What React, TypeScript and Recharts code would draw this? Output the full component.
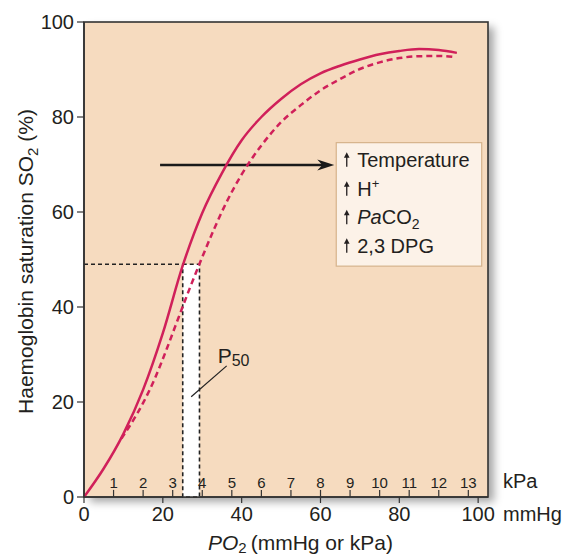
import React from 'react';
import { LineChart, Line, XAxis, YAxis, ReferenceArea, ReferenceLine } from 'recharts';

// ---------- data ----------
const normalPO2 = [0, 5, 10, 15, 20, 25, 30, 35, 40, 45, 50, 55, 60, 65, 70, 75, 80, 85, 90, 94.6];
const normalSat = [0, 6.0, 13.3, 22.6, 34.5, 48.6, 59.8, 68.2, 75.1, 80.0, 83.8, 86.9, 89.2, 90.8, 92.1, 93.2, 93.9, 94.3, 94.1, 93.5];

const shiftedPO2 = [9.5, 12, 15, 18, 21, 24, 27, 30, 33, 36, 40, 45, 50, 55, 60, 65, 70, 75, 80, 85, 90, 94.2];
const shiftedSat = [12.3, 15.5, 19.8, 25.0, 31.2, 37.8, 44.3, 50.5, 56.4, 61.8, 67.9, 74.0, 78.9, 82.5, 85.6, 88.0, 90.1, 91.5, 92.4, 92.8, 92.85, 92.6];

const mmHgTicks = [0, 20, 40, 60, 80, 100];
const satTicks = [0, 20, 40, 60, 80, 100];
const kPaTicks = [1, 2, 3, 4, 5, 6, 7, 8, 9, 10, 11, 12, 13];
const MMHG_PER_KPA = 7.50062;

const P50_NORMAL = 25.05;
const P50_SHIFTED = 29.3;
const P50_SAT = 49;

const X_MAX = 102.5;

const normalData = normalPO2.map((x, i) => ({ x, y: normalSat[i] }));
const shiftedData = shiftedPO2.map((x, i) => ({ x, y: shiftedSat[i] }));

// ---------- styles ----------
const FONT = '"Liberation Sans", Arial, Helvetica, sans-serif';
const TEXT = '#231f20';
const AXIS = '#333333';
const PEACH = '#f6dbbf';
const CURVE = '#d0205a';

const PlotBackground = (props: any) => {
  const { x, y, width, height } = props;
  return (
    <g>
      <defs>
        <filter id="plotShadow" x="-10%" y="-10%" width="125%" height="125%">
          <feDropShadow dx="6" dy="5" stdDeviation="4" floodColor="#000" floodOpacity="0.35" />
        </filter>
      </defs>
      <rect x={x} y={y} width={width} height={height} fill={PEACH} filter="url(#plotShadow)" />
      <rect x={x} y={y} width={width} height={height} fill="none" stroke={AXIS} strokeWidth={1.6} />
    </g>
  );
};

const UpArrow = ({ x, baseline }: { x: number; baseline: number }) => (
  <g>
    <line x1={x} y1={baseline} x2={x} y2={baseline - 11} stroke={TEXT} strokeWidth={1.3} />
    <path d={`M ${x - 2.8} ${baseline - 9} L ${x} ${baseline - 14.5} L ${x + 2.8} ${baseline - 9} Z`} fill={TEXT} />
  </g>
);

const FactorsBox = (props: any) => {
  const { x, y, width, height } = props;
  const tx = x + 21;
  const ax = x + 10.5;
  const b = [y + 24, y + 53, y + 81.6, y + 110];
  const common = { fontFamily: FONT, fontSize: 20, fill: TEXT };
  return (
    <g>
      <rect x={x} y={y} width={width} height={height} fill="#fcf2e8" stroke="#d6b38c" strokeWidth={1.2} />
      <UpArrow x={ax} baseline={b[0]} />
      <text x={tx} y={b[0]} {...common}>Temperature</text>
      <UpArrow x={ax} baseline={b[1]} />
      <text x={tx} y={b[1]} {...common}>
        H<tspan fontSize={13} dy={-8}>+</tspan>
      </text>
      <UpArrow x={ax} baseline={b[2]} />
      <text x={tx} y={b[2]} {...common}>
        <tspan fontStyle="italic">Pa</tspan>CO<tspan fontSize={14} dy={5}>2</tspan>
      </text>
      <UpArrow x={ax} baseline={b[3]} />
      <text x={tx} y={b[3]} {...common}>2,3 DPG</text>
    </g>
  );
};

const ArrowShape = (props: any) => {
  const { x1, y1, x2, y2 } = props;
  return (
    <g>
      <line x1={x1} y1={y1} x2={x2 - 10} y2={y2} stroke="#1a1a1a" strokeWidth={2.5} />
      <path d={`M ${x2} ${y2} L ${x2 - 17} ${y2 - 5.5} L ${x2 - 12} ${y2} L ${x2 - 17} ${y2 + 5.5} Z`} fill="#1a1a1a" />
    </g>
  );
};

const P50Label = (props: any) => {
  const vb = props.viewBox || {};
  const x = vb.x + vb.width - 9;
  const y = vb.y - 3;
  return (
    <text x={x} y={y} fontFamily={FONT} fontSize={21} fill={TEXT}>
      P<tspan fontSize={16} dy={3}>50</tspan>
    </text>
  );
};

const XAxisLabels = (props: any) => {
  const vb = props.viewBox || {};
  const right = vb.x + vb.width;
  return (
    <g fontFamily={FONT} fill={TEXT}>
      <text x={right + 15} y={vb.y - 9} fontSize={20}>kPa</text>
      <text x={right + 15} y={vb.y + 24} fontSize={20}>mmHg</text>
      <text x={vb.x + 124} y={vb.y + 53} fontSize={21}>
        <tspan fontStyle="italic">PO</tspan>
        <tspan fontSize={15} dy={3}>2</tspan>
        <tspan dy={-3} dx={4}>(mmHg or kPa)</tspan>
      </text>
    </g>
  );
};

const YAxisLabel = (props: any) => {
  const vb = props.viewBox || {};
  const cx = vb.x + 33;
  const cy = vb.y + vb.height / 2 + 2;
  return (
    <text
      x={cx}
      y={cy}
      transform={`rotate(-90, ${cx}, ${cy})`}
      textAnchor="middle"
      fontFamily={FONT}
      fontSize={21}
      fill={TEXT}
    >
      Haemoglobin saturation SO<tspan fontSize={15} dy={5}>2</tspan>
      <tspan dy={-5}> (%)</tspan>
    </text>
  );
};

export default function App() {
  return (
    <div style={{ position: 'absolute', left: 0, top: 0, width: 575, height: 557, background: '#fff' }}>
      <LineChart width={575} height={557} margin={{ top: 22, right: 87, left: 0, bottom: 0 }}>
        <ReferenceArea
          x1={0}
          x2={X_MAX}
          y1={0}
          y2={100}
          ifOverflow="visible"
          shape={<PlotBackground />}
        />
        <ReferenceArea
          x1={P50_NORMAL}
          x2={P50_SHIFTED}
          y1={0}
          y2={P50_SAT}
          fill="#ffffff"
          fillOpacity={1}
          stroke="#222"
          strokeWidth={1.6}
          strokeDasharray="4 3"
          ifOverflow="visible"
        />
        <ReferenceLine
          segment={[{ x: 0, y: P50_SAT }, { x: P50_NORMAL, y: P50_SAT }]}
          stroke="#222"
          strokeWidth={1.3}
          strokeDasharray="4 3"
          ifOverflow="visible"
        />
        <ReferenceLine
          segment={[{ x: 27.2, y: 21.1 }, { x: 36.2, y: 27.6 }]}
          stroke="#222"
          strokeWidth={1.2}
          ifOverflow="visible"
          label={P50Label}
        />
        {kPaTicks.map((k) => (
          <ReferenceLine
            key={k}
            segment={[{ x: k * MMHG_PER_KPA, y: 0 }, { x: k * MMHG_PER_KPA, y: 1.5 }]}
            stroke={AXIS}
            strokeWidth={1.2}
            ifOverflow="visible"
            label={{ value: String(k), position: 'top', offset: 2, fontSize: 15, fill: TEXT, fontFamily: FONT }}
          />
        ))}
        <ReferenceArea
          x1={64}
          x2={100.9}
          y1={48.6}
          y2={74.6}
          ifOverflow="visible"
          shape={<FactorsBox />}
        />
        <ReferenceLine
          segment={[{ x: 19.3, y: 69.9 }, { x: 63.5, y: 69.9 }]}
          ifOverflow="visible"
          shape={<ArrowShape />}
        />
        <XAxis
          dataKey="x"
          type="number"
          domain={[0, X_MAX]}
          allowDataOverflow
          ticks={mmHgTicks}
          interval={0}
          height={60}
          tickSize={6}
          tickMargin={4}
          axisLine={{ stroke: AXIS, strokeWidth: 1.6 }}
          tickLine={{ stroke: AXIS, strokeWidth: 1.2 }}
          tick={{ fontSize: 20, fill: TEXT, fontFamily: FONT }}
          label={XAxisLabels}
        />
        <YAxis
          type="number"
          domain={[0, 100]}
          allowDataOverflow
          ticks={satTicks}
          interval={0}
          width={84}
          tickSize={7}
          tickMargin={3}
          axisLine={{ stroke: AXIS, strokeWidth: 1.6 }}
          tickLine={{ stroke: AXIS, strokeWidth: 1.2 }}
          tick={{ fontSize: 20, fill: TEXT, fontFamily: FONT }}
          label={YAxisLabel}
        />
        <Line
          data={normalData}
          dataKey="y"
          type="monotone"
          stroke={CURVE}
          strokeWidth={2.5}
          dot={false}
          activeDot={false}
          isAnimationActive={false}
        />
        <Line
          data={shiftedData}
          dataKey="y"
          type="monotone"
          stroke={CURVE}
          strokeWidth={2.5}
          strokeDasharray="6 4"
          dot={false}
          activeDot={false}
          isAnimationActive={false}
        />
      </LineChart>
    </div>
  );
}
